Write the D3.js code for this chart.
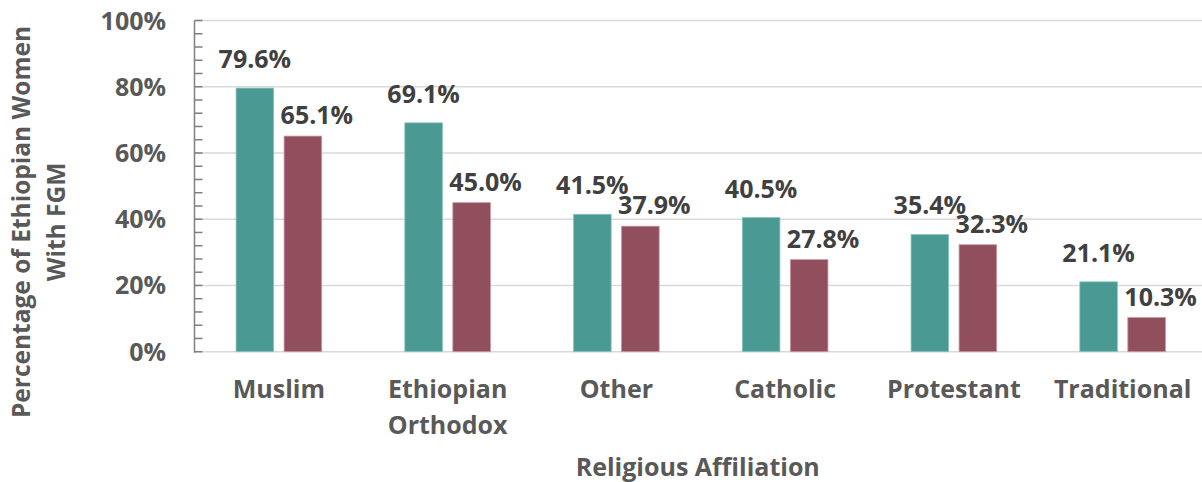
<!DOCTYPE html>
<html>
<head>
<meta charset="utf-8">
<script src="https://cdn.jsdelivr.net/npm/d3@7"></script>
<style>
  html, body { margin: 0; padding: 0; background: #fff; }
  svg { display: block; }
  text { font-family: "Open Sans", "Noto Sans", sans-serif; font-weight: 700; }
</style>
</head>
<body>
<svg id="chart" width="1202" height="482"></svg>
<script>
// Religious affiliation groups along the x axis
const categories = ["Muslim", "Ethiopian Orthodox", "Other", "Catholic", "Protestant", "Traditional"];
// Two series of FGM prevalence (fractions of 1)
const series1 = [0.796, 0.691, 0.415, 0.405, 0.354, 0.211];
const series2 = [0.651, 0.450, 0.379, 0.278, 0.323, 0.103];
const seriesNames = ["series1", "series2"];
const seriesColors = ["#4A9992", "#914F5D"];
// Y axis ticks
const yTicks = [0, 0.2, 0.4, 0.6, 0.8, 1.0];
const yTickLabels = ["0%", "20%", "40%", "60%", "80%", "100%"];
const yMinorStep = 0.04;

const W = 1202, H = 482;
const plotLeft = 194.5, plotRight = 1207, plotTop = 20.5, plotBottom = 351.7;

const svg = d3.select("#chart");

const y = d3.scaleLinear().domain([0, 1]).range([plotBottom, plotTop]);
const x0 = d3.scaleBand().domain(categories).range([plotLeft, plotRight])
  .paddingInner(0.4926).paddingOuter(0.2463);
const x1 = d3.scaleBand().domain(seriesNames).range([0, x0.bandwidth()])
  .paddingInner(0.2167).paddingOuter(0);

// Horizontal gridlines (including the 0% baseline)
svg.append("g").selectAll("line").data(yTicks).join("line")
  .attr("x1", plotLeft).attr("x2", W)
  .attr("y1", d => y(d)).attr("y2", d => y(d))
  .attr("stroke", "#d9d9d9").attr("stroke-width", 1.5);

// Bars
const rows = categories.map((c, i) => ({ cat: c, vals: [series1[i], series2[i]] }));
const groups = svg.append("g").selectAll("g").data(rows).join("g")
  .attr("transform", d => `translate(${x0(d.cat)},0)`);
groups.selectAll("rect").data(d => d.vals.map((v, j) => ({ v, s: seriesNames[j], j })))
  .join("rect")
  .attr("x", d => x1(d.s))
  .attr("y", d => y(d.v))
  .attr("width", x1.bandwidth())
  .attr("height", d => y(0) - y(d.v))
  .attr("fill", d => seriesColors[d.j])
  .attr("stroke", d => d.j === 0 ? "#8cc7c1" : "#c99aa4")
  .attr("stroke-width", 0.8);

// Value labels above bars
const fmt = d3.format(".1%");
groups.selectAll("text.val").data(d => d.vals.map((v, j) => ({ v, s: seriesNames[j], j })))
  .join("text")
  .attr("class", "val")
  .attr("x", d => x1(d.s) + x1.bandwidth() / 2 + (d.j === 0 ? 0 : 14))
  .attr("y", d => y(d.v) - (d.j === 0 ? 20 : 12))
  .attr("text-anchor", "middle")
  .attr("font-size", 25)
  .attr("fill", "#404040")
  .text(d => fmt(d.v));

// Y axis: line with inward major and minor ticks
const yAxis = svg.append("g");
yAxis.append("line")
  .attr("x1", plotLeft).attr("x2", plotLeft)
  .attr("y1", plotTop).attr("y2", plotBottom + 1)
  .attr("stroke", "#7f7f7f").attr("stroke-width", 1.5);
const minorTicks = d3.range(0, 1 + 1e-9, yMinorStep);
yAxis.selectAll("line.tick").data(minorTicks).join("line")
  .attr("class", "tick")
  .attr("x1", plotLeft).attr("x2", plotLeft + 8)
  .attr("y1", d => y(d)).attr("y2", d => y(d))
  .attr("stroke", "#7f7f7f").attr("stroke-width", 1.5);
yAxis.selectAll("text").data(yTicks).join("text")
  .attr("x", 166)
  .attr("y", d => y(d))
  .attr("dy", "0.36em")
  .attr("text-anchor", "end")
  .attr("font-size", 25)
  .attr("fill", "#595959")
  .text((d, i) => yTickLabels[i]);

// Category labels, wrapped to fit the band
const maxLabelWidth = x0.step() - 20;
const catLabels = svg.append("g").selectAll("text").data(categories).join("text")
  .attr("x", d => x0(d) + x0.bandwidth() / 2)
  .attr("y", 397.5)
  .attr("text-anchor", "middle")
  .attr("font-size", 25)
  .attr("fill", "#595959");
catLabels.each(function (d) {
  const t = d3.select(this);
  const words = d.split(" ");
  let line = [];
  let tspan = t.append("tspan").attr("x", t.attr("x")).attr("dy", 0);
  words.forEach(w => {
    line.push(w);
    tspan.text(line.join(" "));
    if (tspan.node().getComputedTextLength() > maxLabelWidth && line.length > 1) {
      line.pop();
      tspan.text(line.join(" "));
      line = [w];
      tspan = t.append("tspan").attr("x", t.attr("x")).attr("dy", 36).text(w);
    }
  });
});

// Axis titles
svg.append("text")
  .attr("x", (plotLeft + plotRight) / 2 - 3)
  .attr("y", 476)
  .attr("text-anchor", "middle")
  .attr("font-size", 25)
  .attr("fill", "#595959")
  .text("Religious Affiliation");

const yTitle = svg.append("text")
  .attr("transform", "translate(0,222) rotate(-90)")
  .attr("text-anchor", "middle")
  .attr("font-size", 24.5)
  .attr("fill", "#595959");
yTitle.append("tspan").attr("x", 0).attr("y", 30).text("Percentage of Ethiopian Women");
yTitle.append("tspan").attr("x", 0).attr("y", 65).text("With FGM");
</script>
</body>
</html>
